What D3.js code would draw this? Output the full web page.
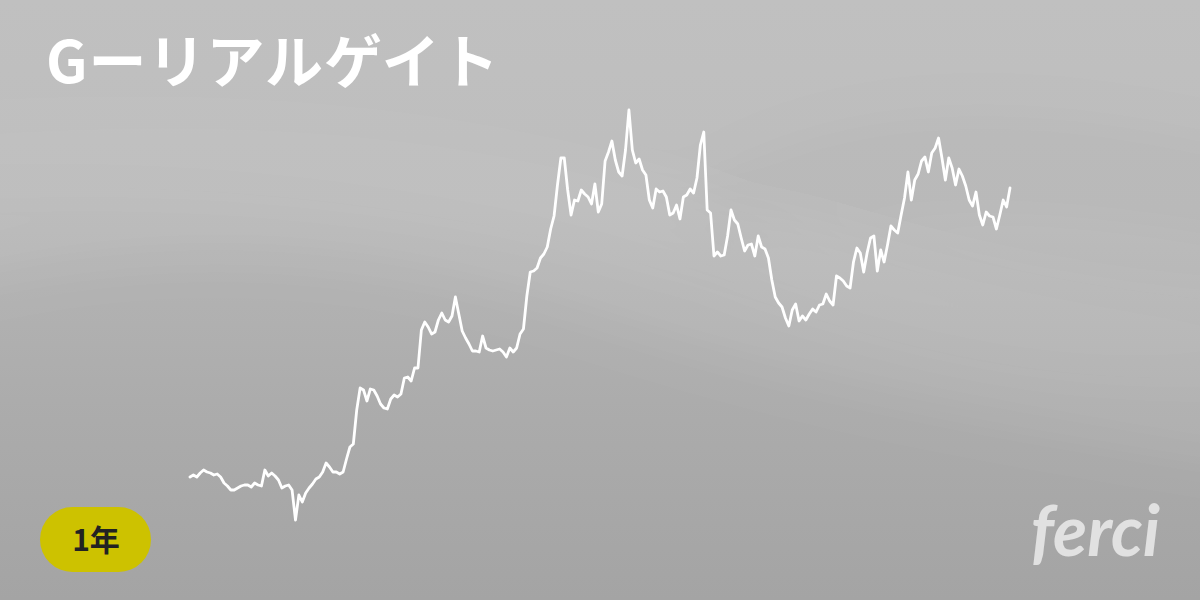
<!DOCTYPE html>
<html>
<head>
<meta charset="utf-8">
<script src="https://cdn.jsdelivr.net/npm/d3@7"></script>
<style>
  html, body { margin: 0; padding: 0; background: #b6b6b6; }
  svg { display: block; }
</style>
</head>
<body>
<svg id="chart" width="1200" height="600"></svg>
<script>
// ---- data ----
const title = "Gーリアルゲイト";
const periodLabel = "1年";
const brand = "ferci";
// daily closing values over one year
const prices = [
  123,125,123,127,130,128,127,125,126,123,
  117,114,110,110,112,114,115,115,113,117,
  115,114,130,124,127,124,120,112,114,115,
  110,80,105,98,107,112,116,121,123,128,
  137,133,128,128,126,128,141,153,156,190,
  212,210,199,211,210,204,196,192,191,201,
  205,203,206,222,223,219,232,232,270,278,
  273,266,268,280,287,280,278,284,303,286,
  269,262,256,249,249,248,264,252,250,249,
  250,251,248,243,252,248,252,266,271,304,
  328,329,332,342,346,353,371,384,415,442,
  442,410,385,400,399,410,406,403,396,416,
  388,396,439,448,459,440,428,424,450,490,
  450,437,441,430,425,400,392,411,408,409,
  403,385,387,395,381,403,405,411,407,422,
  455,468,390,387,344,348,344,345,364,390,
  380,376,362,349,355,356,344,364,353,351,
  342,320,303,297,293,282,274,290,296,279,
  284,280,286,291,288,295,296,306,299,295,
  324,322,319,314,312,338,352,347,328,347,
  362,364,329,350,338,355,374,370,367,385,
  402,428,400,420,426,439,443,428,447,452,
  462,442,420,442,432,415,431,424,414,400,
  394,408,385,375,388,384,383,371,385,400,
  393,412
];

// ---- drawing ----
const W = 1200, H = 600;
const svg = d3.select("#chart");
const defs = svg.append("defs");

const bg = defs.append("linearGradient").attr("id", "bg")
  .attr("x1", 0).attr("y1", 0).attr("x2", 0).attr("y2", 1);
bg.append("stop").attr("offset", "0%").attr("stop-color", "#c0c0c0");
bg.append("stop").attr("offset", "35%").attr("stop-color", "#bdbdbd");
bg.append("stop").attr("offset", "70%").attr("stop-color", "#b2b2b2");
bg.append("stop").attr("offset", "100%").attr("stop-color", "#ababab");

const blur = defs.append("filter").attr("id", "blur")
  .attr("x", "-20%").attr("y", "-50%").attr("width", "140%").attr("height", "200%");
blur.append("feGaussianBlur").attr("stdDeviation", 28);

svg.append("rect").attr("width", W).attr("height", H).attr("fill", "url(#bg)");

// soft wave bands
const bands = svg.append("g").attr("filter", "url(#blur)");
bands.append("path")
  .attr("d", "M-100,300 C150,230 350,240 600,320 C850,400 1000,420 1300,470 L1300,700 L-100,700 Z")
  .attr("fill", "#000").attr("opacity", 0.04);
bands.append("path")
  .attr("d", "M-100,170 C150,150 400,170 620,230 C850,300 1000,370 1300,350 L1300,330 C1000,320 850,250 620,190 C400,130 150,120 -100,140 Z")
  .attr("fill", "#fff").attr("opacity", 0.06);
bands.append("path")
  .attr("d", "M700,180 C850,90 1050,90 1300,160 L1300,260 C1050,200 850,210 700,260 Z")
  .attr("fill", "#000").attr("opacity", 0.025);

// scales
const x = d3.scaleLinear().domain([0, prices.length - 1]).range([190, 1010]);
const y = d3.scaleLinear().domain(d3.extent(prices)).range([520, 110]);

const line = d3.line().x((d, i) => x(i)).y(d => y(d));
svg.append("path")
  .datum(prices)
  .attr("d", line)
  .attr("fill", "none")
  .attr("stroke", "#ffffff")
  .attr("stroke-width", 2.8)
  .attr("stroke-linejoin", "round")
  .attr("stroke-linecap", "round");

// title
svg.append("text")
  .attr("x", 46).attr("y", 83)
  .attr("fill", "#ffffff")
  .style("font-family", "'Noto Sans CJK JP', 'Noto Sans', sans-serif")
  .style("font-size", "58px")
  .style("font-weight", 700)
  .style("letter-spacing", "1px")
  .text(title);

// period pill
svg.append("rect")
  .attr("x", 40).attr("y", 507).attr("width", 111).attr("height", 65)
  .attr("rx", 32.5).attr("fill", "#cdc200");
svg.append("text")
  .attr("x", 96).attr("y", 551)
  .attr("text-anchor", "middle")
  .attr("fill", "#222222")
  .style("font-family", "'Noto Sans CJK JP', sans-serif")
  .style("font-size", "30px")
  .style("font-weight", 700)
  .text(periodLabel);

// brand
svg.append("text")
  .attr("x", 1160).attr("y", 556)
  .attr("text-anchor", "end")
  .attr("fill", "#e1e1e1")
  .style("font-family", "Lato, 'Open Sans', sans-serif")
  .style("font-size", "70px")
  .style("font-weight", 700)
  .style("font-style", "italic")
  .text(brand);
</script>
</body>
</html>
